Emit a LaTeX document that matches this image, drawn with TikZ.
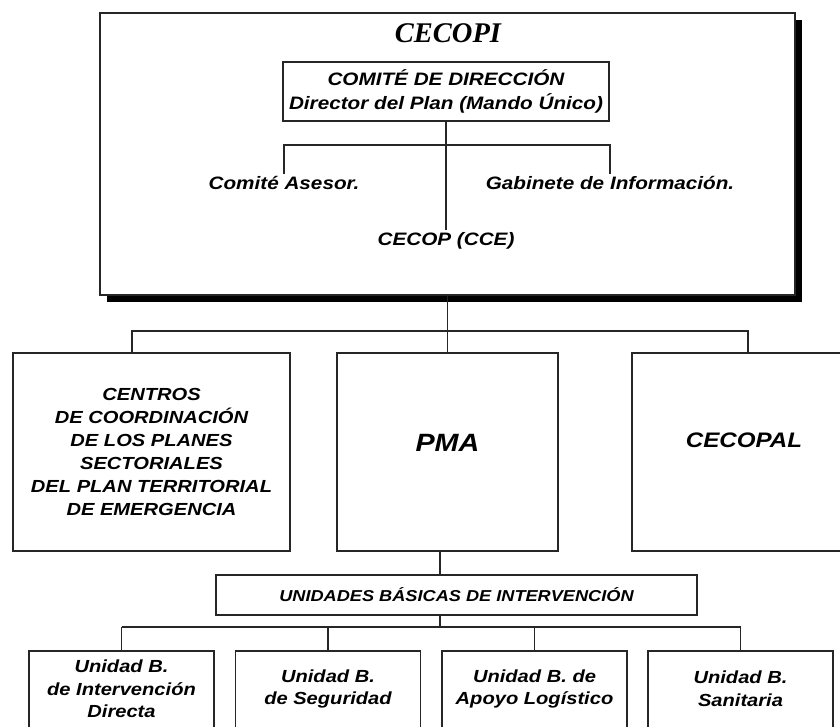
\documentclass[tikz,border=0pt]{standalone}
\usepackage{fontspec}
\usepackage{tikz}
\usetikzlibrary{shadows, positioning, calc}
\newfontfamily\orgfont{Liberation Sans}[FakeStretch=1.15]
\newfontfamily\titlefont{Liberation Serif}
\newcommand{\orgsize}[2]{\orgfont\bfseries\itshape\fontsize{#1}{#2}\selectfont}
\tikzstyle{orgLine}=[draw=black!85, line width=1.8pt]
\tikzstyle{orgBox}=[draw=black!85, line width=1.8pt, fill=white, inner sep=0pt, align=center]
\tikzstyle{orgText}=[inner sep=2pt, align=center]
\tikzstyle{cecopiBox}=[draw=black!85, line width=1.8pt, fill=white,
  drop shadow={shadow xshift=7pt, shadow yshift=-7pt, opacity=1, fill=black}]

\begin{document}
\begin{tikzpicture}[x=1pt, y=-1pt]
  \useasboundingbox (0,0) rectangle (840,727);
  \clip (0,0) rectangle (840,727);

  % CECOPI
  \node[cecopiBox, minimum width=695, minimum height=282] (cecopi) at (447.5,154) {};
  \node[font=\titlefont\bfseries\itshape\fontsize{28.5}{30}\selectfont] (title) at (448,33) {CECOPI};
  \node[orgBox, minimum width=326, minimum height=59, font=\orgsize{18}{24}] (comite) at (446,91.5)
    {COMITÉ DE DIRECCIÓN\\Director del Plan (Mando Único)};
  \node[orgText, font=\orgsize{18}{21}] (asesor) at (284,183) {Comité Asesor.};
  \node[orgText, font=\orgsize{18}{21}] (gabinete) at (610,183) {Gabinete de Información.};
  \node[orgText, font=\orgsize{18}{21}] (cecop) at (446,241) {CECOP (CCE)};
  \coordinate (topBus) at (446,145);
  \draw[orgLine] (comite.south) -- (cecop.north);
  \draw[orgLine] (asesor.north) -- (asesor.north |- topBus) -- (gabinete.north |- topBus) -- (gabinete.north);

  % centros, PMA, CECOPAL
  \coordinate (midBusL) at (132,331);
  \coordinate (midBusR) at (748,331);
  \draw[orgLine] (cecopi.south) -- (cecopi.south |- midBusL);
  \node[orgBox, minimum width=277, minimum height=198, font=\orgsize{17.5}{23}] (centros) at (151.5,452)
    {CENTROS\\DE COORDINACIÓN\\DE LOS PLANES\\SECTORIALES\\DEL PLAN TERRITORIAL\\DE EMERGENCIA};
  \node[orgBox, minimum width=221, minimum height=198] (pma) at (447.5,452) {};
  \node[orgBox, minimum width=224, minimum height=198] (cecopal) at (744,452) {};
  \node[orgText, font=\orgsize{25}{28}] (pmaTxt) at ([yshift=9.5pt]pma.center) {PMA};
  \node[orgText, font=\orgsize{21}{24}] (cecopalTxt) at ([yshift=11.5pt]cecopal.center) {CECOPAL};
  \draw[orgLine] (midBusL |- centros.north) -- (midBusL) -- (midBusR) -- (midBusR |- cecopal.north);
  \draw[orgLine] (cecopi.south |- midBusL) -- (pma.north);

  % unidades basicas
  \node[orgBox, minimum width=481, minimum height=40, font=\orgsize{15.8}{18}] (unidades) at (456.5,595)
    {UNIDADES BÁSICAS DE INTERVENCIÓN};
  \coordinate (lowBus) at (440,627);
  \draw[orgLine] (lowBus |- pma.south) -- (lowBus |- unidades.north);
  \draw[orgLine] (lowBus |- unidades.south) -- (lowBus);
  \foreach \n/\x/\t in {ubA/121.5/{Unidad B.\\de Intervención\\Directa},
      ubB/328/{Unidad B.\\de Seguridad},
      ubC/534.5/{Unidad B. de\\Apoyo Logístico},
      ubD/740.5/{Unidad B.\\Sanitaria}}
  {
    \node[orgBox, minimum width=185, minimum height=110, anchor=north] (\n) at (\x,650) {};
    \node[orgText, font=\orgsize{17.5}{22.7}] (\n Txt) at (\x,689) {\t};
    \draw[orgLine] (\n.north) -- (\n.north |- lowBus);
  }
  \draw[orgLine] (ubA.north |- lowBus) -- (ubD.north |- lowBus);
\end{tikzpicture}
\end{document}
